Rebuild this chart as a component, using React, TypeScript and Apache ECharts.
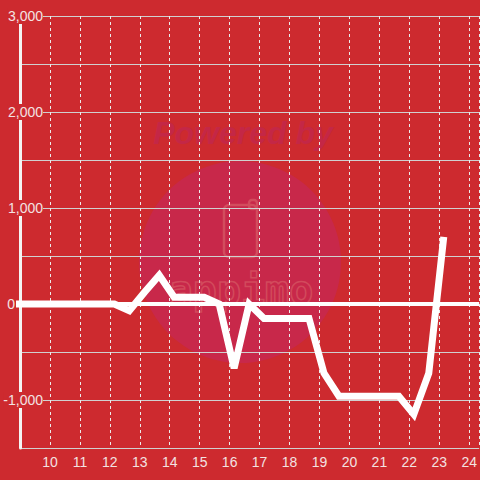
import React, { useEffect, useRef } from "react";
import * as echarts from "echarts";

const hours: number[] = [
  8.65, 9.15, 9.65, 10.15, 10.65, 11.15, 11.65, 12.15, 12.65, 13.15, 13.65, 14.15, 14.65, 15.15, 15.65,
  16.15, 16.65, 17.15, 17.65, 18.15, 18.65, 19.15, 19.65, 20.15, 20.65, 21.15, 21.65, 22.15, 22.65, 23.15,
];
const values: number[] = [
  0, 0, 0, 0, 0, 0, 0, 0, -70, 120, 300, 70, 70, 70, 0,
  -670, 0, -150, -150, -150, -150, -720, -960, -960, -960, -960, -960, -1150, -720, 700,
];
const yMin = -1500;
const yMax = 3000;
const yStep = 500;
const xMin = 9;
const xMax = 24 + 1 / 3;

const BG = "#cd2a2f";

export default function App() {
  const ref = useRef<HTMLDivElement>(null);
  useEffect(() => {
    if (!ref.current) return;
    const chart = echarts.init(ref.current, null, { renderer: "svg" });
    const fmt = (v: number) => {
      if (v === 0) return "{z|0}";
      if (v % 1000 !== 0) return "";
      return "{n|" + v.toLocaleString("en-US") + "}";
    };
    chart.setOption({
      animation: false,
      backgroundColor: BG,
      grid: { left: 20, right: 0, top: 16, bottom: 32, containLabel: false },
      xAxis: {
        type: "value",
        min: xMin,
        max: xMax,
        interval: 1,
        axisLine: { show: true, lineStyle: { color: "#d4d4d4", width: 1 } },
        axisTick: { show: false },
        axisLabel: {
          color: "#f3e2e2",
          fontSize: 14,
          fontFamily: "Liberation Sans",
          margin: 7,
          showMinLabel: false,
          showMaxLabel: false,
          formatter: (v: number) => (Number.isInteger(v) ? String(v) : ""),
        },
        splitLine: { show: true, lineStyle: { color: "#ececec", width: 1, type: [3, 3] } },
      },
      yAxis: [
        {
          type: "value",
          min: yMin,
          max: yMax,
          interval: yStep,
          position: "left",
          axisLine: { show: false },
          axisTick: { show: false },
          axisLabel: { show: false },
          splitLine: { show: true, lineStyle: { color: "#d0d0d0", width: 1 } },
          z: 0,
        },
        {
          type: "value",
          min: yMin,
          max: yMax,
          interval: yStep,
          position: "left",
          offset: 0,
          z: 1,
          axisLine: { show: true, lineStyle: { color: "#f4f4f4", width: 3 } },
          axisTick: { show: false },
          splitLine: { show: false },
          axisLabel: {
            color: "#f3e2e2",
            fontSize: 14,
            fontFamily: "Liberation Sans",
            margin: -23,
            formatter: fmt,
            rich: {
              n: { color: "#f3e2e2", fontSize: 14, fontFamily: "Liberation Sans", backgroundColor: BG, padding: [1, 0, 1, 0] },
              z: { color: "#f3e2e2", fontSize: 14, fontFamily: "Liberation Sans", padding: [0, 28, 0, 0] },
            },
          },
        },
      ],
      graphic: [
        { type: "circle", z: -1, shape: { cx: 240, cy: 262, r: 101 }, style: { fill: "#c8284a" }, silent: true },
        {
          type: "text",
          z: -1,
          x: 243,
          y: 133,
          silent: true,
          style: {
            text: "Powered by",
            font: "italic bold 32px 'Liberation Sans'",
            fill: "#c42746",
            stroke: "none",
            lineWidth: 0,
            align: "center",
            verticalAlign: "middle",
          },
        },
        {
          type: "rect",
          z: -1,
          silent: true,
          shape: { x: 224, y: 205, width: 33, height: 52, r: 5 },
          style: { fill: "none", stroke: "#d24d5e", lineWidth: 2.5 },
        },
        {
          type: "rect",
          z: -1,
          silent: true,
          shape: { x: 249, y: 200, width: 8, height: 9, r: 3 },
          style: { fill: "none", stroke: "#d24d5e", lineWidth: 2.5 },
        },
        {
          type: "text",
          z: -1,
          x: 241,
          y: 290,
          silent: true,
          style: {
            text: "appimo",
            font: "bold 40px 'DejaVu Sans Mono'",
            fill: "none",
            stroke: "#d24a5c",
            lineWidth: 1.5,
            align: "center",
            verticalAlign: "middle",
          },
        },
      ],
      series: [
        {
          type: "line",
          yAxisIndex: 0,
          data: hours.map((h, i) => [h, values[i]]),
          showSymbol: false,
          clip: true,
          lineStyle: { color: "#ffffff", width: 7, join: "miter", cap: "butt" },
          markLine: {
            silent: true,
            symbol: ["none", "none"],
            label: { show: false },
            lineStyle: { color: "#ffffff", width: 4, type: "solid" },
            data: [{ yAxis: 0 }],
          },
        },
      ],
    });
    return () => chart.dispose();
  }, []);
  return <div ref={ref} style={{ width: 480, height: 480, position: "absolute", left: 0, top: 0 }} />;
}
